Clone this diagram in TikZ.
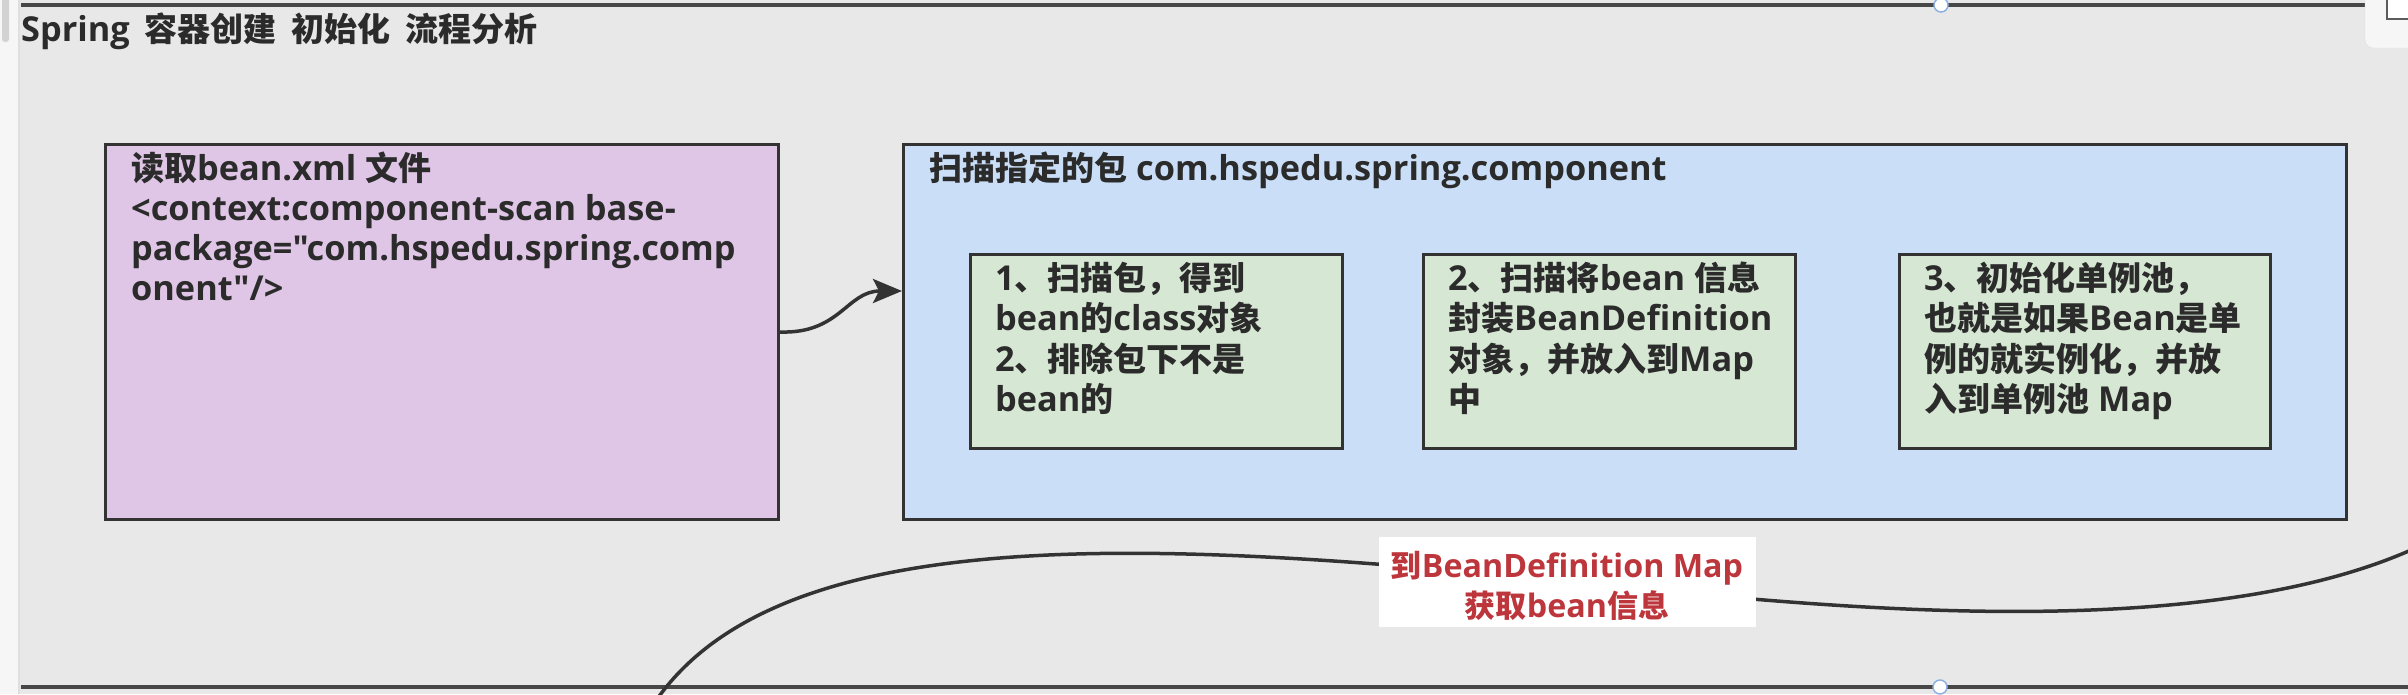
\documentclass[tikz,border=0pt]{standalone}
\usepackage{fontspec}
\setmainfont{Open Sans}[Scale=1.04, Ligatures=TeXOff]
\newfontfamily\zhfont{Noto Sans CJK SC}
\usetikzlibrary{arrows.meta}
\newcommand\z[1]{{\zhfont#1}}
\newcommand\tgap{\hspace{15pt}}
\definecolor{canvas}{HTML}{E8E8E8}
\definecolor{strip}{HTML}{F6F6F6}
\definecolor{thumb}{HTML}{D2D2D2}
\definecolor{edge}{HTML}{333333}
\definecolor{ink}{HTML}{2B2B2B}
\definecolor{purp}{HTML}{E0C6E6}
\definecolor{bluef}{HTML}{CADFF7}
\definecolor{greenf}{HTML}{D6E8D3}
\definecolor{redink}{HTML}{BC363C}
\definecolor{handleblue}{HTML}{8FB0E0}
\begin{document}
\begin{tikzpicture}[x=1pt,y=-1pt,
  box/.style={draw=edge, line width=3pt, anchor=north west, inner sep=0pt},
  txt/.style={anchor=base west, inner sep=0pt, align=left, text=ink,
    font=\bfseries\fontsize{33}{40.5}\selectfont},
  frame/.style={draw=edge!90, line width=4pt},
  conn/.style={draw=edge, line width=3.5pt},
  handle/.style={circle, draw=handleblue, fill=white, line width=1.5pt, minimum size=14pt, inner sep=0pt}]
\useasboundingbox (0,0) rectangle (2408,694);
% background
\fill[strip] (0,0) rectangle (20,694);
\fill[thumb, rounded corners=3pt] (2,-6) rectangle (9,42);
\draw[thumb!70, line width=1.5pt] (19,0) -- (19,694);
\fill[canvas] (20,0) rectangle (2408,694);
% container edges
\draw[frame] (21,5) -- (2365,5);
\draw[frame] (21,687) -- (2408,687);
\node[handle] (htop) at (1941,5) {};
\node[handle] (hbot) at (1940,687) {};
% top-right panel
\draw[fill=strip, draw=thumb!80, rounded corners=8pt] (2365,-12) rectangle (2420,48);
\draw[draw=edge!80, line width=2pt, fill=white] (2387,-6) rectangle (2420,19);
% title
\node[anchor=base west, inner sep=0pt, text=ink, font=\bfseries\fontsize{33}{38}\selectfont] (title) at (21,41)
  {Spring\tgap\z{容器创建}\tgap\z{初始化}\tgap\z{流程分析}};
% boxes
\node[box, fill=purp, minimum width=673pt, minimum height=375pt] (xml) at (104,143) {};
\node[box, fill=bluef, minimum width=1443pt, minimum height=375pt] (scan) at (902,143) {};
\node[box, fill=greenf, minimum width=372pt, minimum height=194pt] (s1) at (969,253) {};
\node[box, fill=greenf, minimum width=372pt, minimum height=194pt] (s2) at (1422,253) {};
\node[box, fill=greenf, minimum width=371pt, minimum height=194pt] (s3) at (1898,253) {};
% texts (anchor = baseline of the last line)
\node[txt, font=\bfseries\fontsize{33}{40}\selectfont] (xmltxt) at (131,300)
  {\z{读取}bean.xml \z{文件}\\<context:component-scan base-\\package="com.hspedu.spring.comp\\onent"/>};
\node[txt] (scantxt) at (929,180) {\z{扫描指定的包} com.hspedu.spring.component};
\node[txt] (s1txt) at (995,411.5)
  {1\z{、扫描包，得到}\\bean\z{的}class\z{对象}\\2\z{、排除包下不是}\\bean\z{的}};
\node[txt] (s2txt) at (1448,411.5)
  {2\z{、扫描将}bean \z{信息}\\\z{封装}BeanDefinition\\\z{对象，并放入到}Map\\\z{中}};
\node[txt] (s3txt) at (1924,411.5)
  {3\z{、初始化单例池，}\\\z{也就是如果}Bean\z{是单}\\\z{例的就实例化，并放}\\\z{入到单例池} Map};
% arrow xml -> scan
\draw[conn, -{Stealth[length=29pt, width=24pt, inset=6pt]}]
  (xml.east) .. controls +(60,2) and +(-55,0) .. ([yshift=41pt]scan.west);
% lower curve with label
\coordinate (c0) at (655,702);
\coordinate (lblc) at (1567,581);
\coordinate (c1) at (2422,545);
\draw[conn] (c0) .. controls (780,520) and (1150,540) .. (lblc)
  .. controls (1800,605) and (2200,650) .. (c1);
\node[fill=white, inner sep=0pt, minimum width=377pt, minimum height=90pt] (lbl) at ([yshift=-1pt]lblc) {};
\node[anchor=base, inner sep=0pt, align=center, text=redink,
  font=\bfseries\fontsize{31}{40}\selectfont] (lbltxt) at (1567,617)
  {\z{到}BeanDefinition Map\\\z{获取}bean\z{信息}};
\end{tikzpicture}
\end{document}
